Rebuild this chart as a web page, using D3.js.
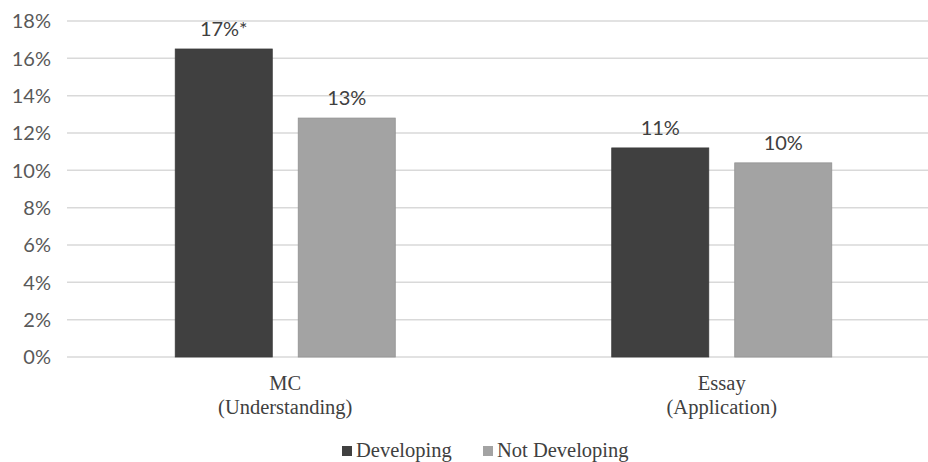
<!DOCTYPE html>
<html>
<head>
<meta charset="utf-8">
<script src="https://cdn.jsdelivr.net/npm/d3@7"></script>
<style>
  html, body { margin: 0; padding: 0; background: #fff; }
  svg { display: block; }
</style>
</head>
<body>
<svg id="chart" width="928" height="462"></svg>
<script>
// Share of students per item type, by developing status
const categories = ["MC|(Understanding)", "Essay|(Application)"];
const seriesNames = ["Developing", "Not Developing"];
const developing = [16.5, 11.2];
const notDeveloping = [12.8, 10.4];
const significance = [["*", ""], ["", ""]];
const yTicks = [0, 2, 4, 6, 8, 10, 12, 14, 16, 18];

const colors = ["#404040", "#a3a3a3"];

const svg = d3.select("#chart");
const W = 928, H = 462;
const plotLeft = 67, plotRight = 940, plotTop = 21, plotBottom = 357;

const y = d3.scaleLinear().domain([0, 18]).range([plotBottom, plotTop]);
const x0 = d3.scaleBand().domain(categories).range([plotLeft, plotRight]).padding(0);
const x1 = d3.scaleBand().domain(seriesNames).range([0, x0.bandwidth()])
  .paddingInner(0.211).paddingOuter(0.88);

// horizontal gridlines
svg.append("g")
  .selectAll("line")
  .data(yTicks)
  .join("line")
  .attr("x1", plotLeft).attr("x2", W)
  .attr("y1", d => y(d)).attr("y2", d => y(d))
  .attr("stroke", "#d9d9d9")
  .attr("stroke-width", 1.5);

// y-axis labels
svg.append("g")
  .selectAll("text")
  .data(yTicks)
  .join("text")
  .attr("x", 51)
  .attr("y", d => y(d))
  .attr("dy", "0.36em")
  .attr("text-anchor", "end")
  .attr("font-family", "Lato, 'Open Sans', sans-serif")
  .attr("font-size", 20)
  .attr("fill", "#595959")
  .text(d => d + "%");

// flatten into bars
const bars = [];
categories.forEach((c, i) => {
  [developing[i], notDeveloping[i]].forEach((v, j) => {
    bars.push({ cat: c, series: seriesNames[j], value: v, mark: significance[i][j], color: colors[j] });
  });
});

const g = svg.append("g");
g.selectAll("rect")
  .data(bars)
  .join("rect")
  .attr("x", d => x0(d.cat) + x1(d.series))
  .attr("width", x1.bandwidth())
  .attr("y", d => y(d.value))
  .attr("height", d => y(0) - y(d.value))
  .attr("fill", d => d.color)
  .attr("stroke", d => d3.color(d.color).darker(0.3))
  .attr("stroke-width", 0.8);

// value labels
g.selectAll("text")
  .data(bars)
  .join("text")
  .attr("x", d => x0(d.cat) + x1(d.series) + x1.bandwidth() / 2)
  .attr("y", d => y(d.value) - 13)
  .attr("text-anchor", "middle")
  .attr("font-family", "Lato, 'Open Sans', sans-serif")
  .attr("font-size", 20)
  .attr("fill", "#404040")
  .text(d => Math.round(d.value) + "%" + d.mark);

// category labels (two lines)
const cat = svg.append("g")
  .selectAll("text")
  .data(categories)
  .join("text")
  .attr("x", d => x0(d) + x0.bandwidth() / 2)
  .attr("y", 390)
  .attr("text-anchor", "middle")
  .attr("font-family", "'Liberation Serif', 'DejaVu Serif', serif")
  .attr("font-size", 20.5)
  .attr("fill", "#404040");
cat.selectAll("tspan")
  .data(d => d.split("|"))
  .join("tspan")
  .attr("x", function () { return d3.select(this.parentNode).attr("x"); })
  .attr("dy", (d, i) => i === 0 ? 0 : 23.5)
  .text(d => d);

// legend
const legendX = [342, 483];
const legend = svg.append("g")
  .selectAll("g")
  .data(seriesNames)
  .join("g")
  .attr("transform", (d, i) => `translate(${legendX[i]},0)`);
legend.append("rect")
  .attr("x", 0).attr("y", 446)
  .attr("width", 10).attr("height", 10)
  .attr("fill", (d, i) => colors[i]);
legend.append("text")
  .attr("x", 14).attr("y", 457)
  .attr("font-family", "'Liberation Serif', 'DejaVu Serif', serif")
  .attr("font-size", 20.5)
  .attr("fill", "#404040")
  .text(d => d);
</script>
</body>
</html>
